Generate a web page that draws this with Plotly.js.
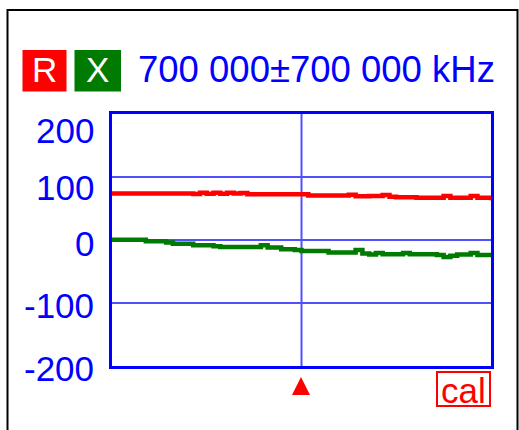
<!DOCTYPE html>
<html>
<head>
<meta charset="utf-8">
<script src="https://cdn.plot.ly/plotly-3.0.1.min.js"></script>
<style>
html,body{margin:0;padding:0;background:#fff;}
#chart{width:519px;height:430px;}
</style>
</head>
<body>
<div id="chart"></div>
<script>
// ---- data (frequency in kHz) ----
var freqKHz = [0,25000,50000,75000,100000,125000,150000,175000,200000,225000,250000,275000,300000,325000,350000,375000,400000,425000,450000,475000,500000,525000,550000,575000,600000,625000,650000,675000,700000,725000,750000,775000,800000,825000,850000,875000,900000,925000,950000,975000,1000000,1025000,1050000,1075000,1100000,1125000,1150000,1175000,1200000,1225000,1250000,1275000,1300000,1325000,1350000,1375000,1400000];
var rValues = [74,74,74,74,74,74,74,74,74,74,74,74,73,75,73.5,75,73.5,75,74,74.5,72.5,72.5,72.5,72.5,72.5,72.5,72.5,72.5,72.5,70.5,70.5,70.5,70.5,70.5,70.5,72,69.5,69.5,70,70,71.5,68.5,68,68,68,67,67,67,67,70,67,67,67,70,67,67,63];
var xValues = [0.5,0.5,0.5,0.5,0.5,-2,-2,-2,-4,-6,-6,-6,-8.5,-8.5,-8.5,-10,-11,-11,-11,-11,-11,-11,-8.5,-12,-12,-14.5,-14.5,-16,-17.3,-17.3,-17.3,-17.3,-20,-20,-20,-20,-16,-21.5,-23,-20.5,-22.5,-22.5,-22.5,-20.5,-22.5,-22.5,-22.5,-22.5,-24,-27,-25,-23,-23,-20.5,-24,-24,-24];
var yTickVals = [200,100,0,-100,-200];
var yTickText = ["200","100","0","-100","-200"];
var yGridVals = [100,0,-100];
var centerKHz = 700000;
var spanKHz = 700000;
var titleText = "700 000\u00b1700 000 kHz";

// ---- layout helpers (pixel -> paper) ----
var W = 519, H = 430;
var L = 112, R = 28, T = 114, B = 64;
var PW = W - L - R, PH = H - T - B;
function px(x){ return (x - L) / PW; }
function py(y){ return (H - B - y) / PH; }

var BLUE = "#0000ff", GRID = "#5050ff", RED = "#ff0000", GREEN = "#007a00";
var FONT = "Liberation Sans, Arial, sans-serif";
var xMin = centerKHz - spanKHz, xMax = centerKHz + spanKHz;

var traces = [
  {x: freqKHz, y: rValues, mode: "lines", line: {color: RED, width: 4.5, shape: "hv"}, hoverinfo: "skip"},
  {x: freqKHz, y: xValues, mode: "lines", line: {color: GREEN, width: 4.5, shape: "hv"}, hoverinfo: "skip"}
];

// tick label positions (px) as drawn by the instrument
var tickYpx = [130, 187.5, 243, 305.8, 368.5];
var annotations = [];
for (var i = 0; i < yTickVals.length; i++) {
  annotations.push({xref: "paper", yref: "paper", x: px(96), y: py(tickYpx[i]),
    xanchor: "right", yanchor: "middle", showarrow: false, text: yTickText[i],
    font: {family: FONT, size: 35, color: BLUE}});
}
annotations.push({xref: "paper", yref: "paper", x: px(136), y: py(69.5), xanchor: "left", yanchor: "middle",
  showarrow: false, text: titleText, font: {family: FONT, size: 36.5, color: BLUE}});
annotations.push({xref: "paper", yref: "paper", x: px(44.5), y: py(69.5), xanchor: "center", yanchor: "middle",
  showarrow: false, text: "R", font: {family: FONT, size: 35, color: "#ffffff"}});
annotations.push({xref: "paper", yref: "paper", x: px(97.7), y: py(69.5), xanchor: "center", yanchor: "middle",
  showarrow: false, text: "X", font: {family: FONT, size: 35, color: "#ffffff"}});
annotations.push({xref: "paper", yref: "paper", x: px(463.5), y: py(390), xanchor: "center", yanchor: "middle",
  showarrow: false, text: "cal", font: {family: FONT, size: 35, color: RED}});

var shapes = [
  // outer black frame
  {type: "rect", xref: "paper", yref: "paper", x0: px(7.5), x1: px(517.5), y0: py(460), y1: py(10),
   line: {color: "#000000", width: 2}, fillcolor: "rgba(0,0,0,0)", layer: "below"},
  // R / X boxes
  {type: "rect", xref: "paper", yref: "paper", x0: px(22.5), x1: px(66.5), y0: py(91.5), y1: py(50),
   line: {width: 0}, fillcolor: RED},
  {type: "rect", xref: "paper", yref: "paper", x0: px(74.5), x1: px(121), y0: py(91.5), y1: py(50),
   line: {width: 0}, fillcolor: GREEN},
  // cal box
  {type: "rect", xref: "paper", yref: "paper", x0: px(437), x1: px(490), y0: py(406), y1: py(372),
   line: {color: RED, width: 2}, fillcolor: "rgba(0,0,0,0)"},
  // center marker triangle
  {type: "path", xref: "paper", yref: "paper",
   path: "M" + px(292) + "," + py(395) + " L" + px(310) + "," + py(395) + " L" + px(301) + "," + py(377) + " Z",
   line: {width: 0}, fillcolor: RED}
];
// grid lines (blue) in data coordinates
shapes.push({type: "line", xref: "x", yref: "paper", x0: centerKHz, x1: centerKHz, y0: 0, y1: 1,
  line: {color: GRID, width: 2}, layer: "below"});
for (var g = 0; g < yGridVals.length; g++) {
  shapes.push({type: "line", xref: "paper", yref: "y", x0: 0, x1: 1, y0: yGridVals[g], y1: yGridVals[g],
    line: {color: GRID, width: 2}, layer: "below"});
}

var layout = {
  width: W, height: H,
  margin: {l: L, r: R, t: T, b: B, pad: 0},
  paper_bgcolor: "#ffffff", plot_bgcolor: "#ffffff",
  showlegend: false,
  xaxis: {range: [xMin, xMax], showticklabels: false, ticks: "", showgrid: false, zeroline: false,
    showline: true, linecolor: BLUE, linewidth: 3, mirror: true, fixedrange: true},
  yaxis: {range: [-200, 200], showticklabels: false, ticks: "", showgrid: false, zeroline: false,
    showline: true, linecolor: BLUE, linewidth: 3, mirror: true, fixedrange: true},
  annotations: annotations,
  shapes: shapes
};

Plotly.newPlot("chart", traces, layout, {displayModeBar: false, staticPlot: true});
</script>
</body>
</html>
